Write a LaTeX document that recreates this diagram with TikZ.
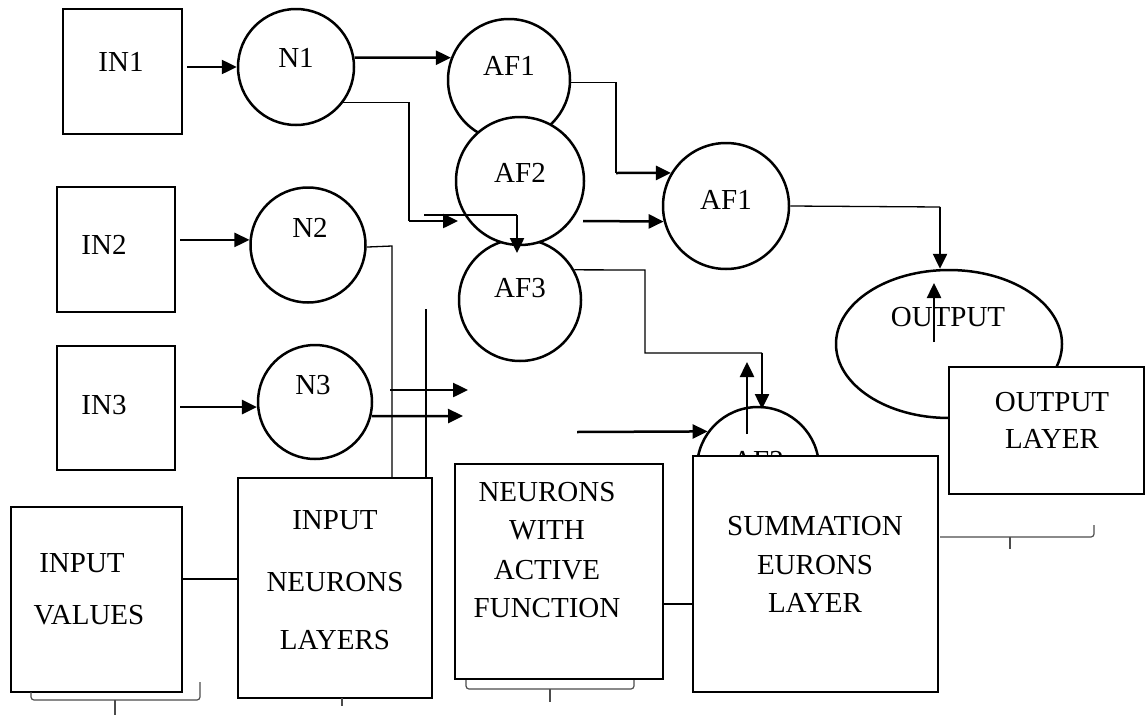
\documentclass[tikz,border=0pt]{standalone}
\usepackage{fontspec}
\setmainfont{Liberation Serif}
\usetikzlibrary{arrows.meta,shapes.geometric}
\begin{document}
\begin{tikzpicture}[x=1pt,y=-1pt,
  box/.style={draw, line width=2.5pt, inner sep=0, fill=white},
  circ/.style={draw, circle, line width=2.5pt, inner sep=0, fill=white},
  tx/.style={inner sep=0, text height=19pt, text depth=0pt, font=\fontsize{29}{34}\selectfont},
  arr/.style={line width=2.5pt, -{Triangle[length=15pt,width=14pt]}},
  thinline/.style={line width=1.3pt},
  brc/.style={line width=1.2pt, draw=black!70}]
\useasboundingbox (0,0) rectangle (1146,715);

% input boxes
\node[box, minimum width=119pt, minimum height=125pt] (in1) at (122.5,71.5) {};
\node[box, minimum width=118pt, minimum height=125pt] (in2) at (116,249.5) {};
\node[box, minimum width=118pt, minimum height=124pt] (in3) at (116,408) {};
\node[tx] (tin1) at (121,62) {IN1};
\node[tx] (tin2) at (104,245) {IN2};
\node[tx] (tin3) at (104,405) {IN3};

% input neurons
\node[circ, minimum size=116pt] (n1) at (296,67) {};
\node[circ, minimum size=115pt] (n2) at (308,245) {};
\node[circ, minimum size=114pt] (n3) at (315,402) {};
\node[tx] (tn1) at (296,58) {N1};
\node[tx] (tn2) at (310,228) {N2};
\node[tx] (tn3) at (313,385) {N3};

% activation neurons
\node[circ, minimum size=122pt] (af1a) at (509,80) {};
\node[circ, minimum size=122pt] (af3) at (520,300) {};
\node[circ, minimum width=124pt, minimum height=128pt] (af2) at (520,181) {};
\node[circ, minimum size=126pt] (af1b) at (726,206) {};
\node[tx] (taf1a) at (509,66) {AF1};
\node[tx] (taf2) at (520,173) {AF2};
\node[tx] (taf3) at (520,288) {AF3};
\node[tx] (taf1b) at (726,200) {AF1};

% arrows input -> neurons
\draw[arr, shorten <=4pt] (in1.east |- n1.west) -- (n1.west);
\draw[arr, shorten <=4pt] (in2.east |- n2.175) -- (n2.175);
\draw[arr, shorten <=4pt] (in3.east |- n3.185) -- (n3.185);

% N1 -> AF1, N1 -> AF2
\draw[arr] (n1.9) -- (af1a.159);
\coordinate (e1) at (409,221);
\coordinate (e1t) at (458,221);
\draw[thinline] (n1.-37) -| (e1);
\draw[arr] (e1) -- (e1t);
\coordinate (e2a) at (424,215);
\coordinate (e2b) at (517,215);
\coordinate (e2t) at (517,253);
\draw[thinline] (e2a) -- (e2b);
\draw[arr] (e2b) -- (e2t);

% AF1 -> AF1b, AF2 -> AF1b
\coordinate (e3) at (616,173);
\draw[thinline] (af1a.-2) -| (e3);
\draw[arr] (e3) -- (af1b.149);
\coordinate (e4) at (583,221);
\draw[arr] (e4) -- (af1b.194);

% N2 / N3 lines
\coordinate (v1a) at (392,246);
\coordinate (v1b) at (392,478);
\draw[thinline] (n2.-2) -- (v1a) -- (v1b);
\coordinate (v2a) at (426,309);
\coordinate (v2b) at (426,478);
\draw[thinline] (v2a) -- (v2b);
\coordinate (h1a) at (390,390);
\coordinate (h1b) at (468,390);
\draw[arr] (h1a) -- (h1b);
\coordinate (h2b) at (463,416);
\draw[arr] (n3.-14) -- (h2b);

% hidden summation neuron
\node[circ, minimum size=122pt] (afx) at (758,468) {};
\node[tx] (tafx) at (758,461) {AF2};
\coordinate (s1) at (645,270);
\coordinate (s2) at (645,353);
\coordinate (s3) at (762,353);
\coordinate (s3t) at (762,409);
\draw[thinline] (af3.29) -- (s1) -- (s2) -- (s3);
\draw[arr] (s3) -- (s3t);
\coordinate (u1a) at (747,434);
\coordinate (u1b) at (747,362);
\draw[arr] (u1a) -- (u1b);
\coordinate (w1) at (577,432);
\draw[arr] (w1) -- (afx.144);

% output
\node[draw, ellipse, line width=2.5pt, inner sep=0, minimum width=226pt, minimum height=148pt] (out) at (949,344) {};
\node[tx] (tout) at (948,317) {OUTPUT};
\coordinate (o1) at (940,207);
\draw[thinline] (af1b.east) -- (o1);
\draw[arr] (o1) -- (o1 |- out.north);
\coordinate (o2a) at (934,342);
\coordinate (o2b) at (934,283);
\draw[arr] (o2a) -- (o2b);

% layer boxes
\node[box, minimum width=195pt, minimum height=127pt] (ol) at (1046.5,430.5) {};
\node[tx] (tol1) at (1052,402) {OUTPUT};
\node[tx] (tol2) at (1052,439) {LAYER};

\node[box, minimum width=245pt, minimum height=236pt] (sl) at (815.5,574) {};
\node[tx] (tsl1) at (815,526) {SUMMATION};
\node[tx] (tsl2) at (815,565) {EURONS};
\node[tx] (tsl3) at (815,603) {LAYER};

\node[box, minimum width=171pt, minimum height=185pt] (iv) at (96.5,599.5) {};
\node[tx] (tiv1) at (82,563) {INPUT};
\node[tx] (tiv2) at (89,615) {VALUES};

\node[box, minimum width=194pt, minimum height=220pt] (inl) at (335,588) {};
\node[tx] (tinl1) at (335,520) {INPUT};
\node[tx] (tinl2) at (335,582) {NEURONS};
\node[tx] (tinl3) at (335,640) {LAYERS};

\node[box, minimum width=208pt, minimum height=215pt] (naf) at (559,571.5) {};
\node[tx] (tnaf1) at (547,492) {NEURONS};
\node[tx] (tnaf2) at (547,530) {WITH};
\node[tx] (tnaf3) at (547,570) {ACTIVE};
\node[tx] (tnaf4) at (547,608) {FUNCTION};

% links between layer boxes
\draw[line width=2pt] (iv.east |- 0,579) -- (inl.west |- 0,579);
\draw[thinline] (naf.east |- 0,604) -- (sl.west |- 0,604);

% braces
\draw[brc, rounded corners=3pt] (31,692) -- (31,700) -- (200,700) -- (200,682);
\draw[brc] (115,700) -- (115,715);
\draw[brc] (342,698) -- (342,706);
\draw[brc, rounded corners=3pt] (466,680) -- (466,689) -- (634,689) -- (634,680);
\draw[brc] (550,689) -- (550,702);
\draw[brc, rounded corners=3pt] (940,537) -- (1094,537) -- (1094,525);
\draw[brc] (1010,537) -- (1010,549);
\end{tikzpicture}
\end{document}
